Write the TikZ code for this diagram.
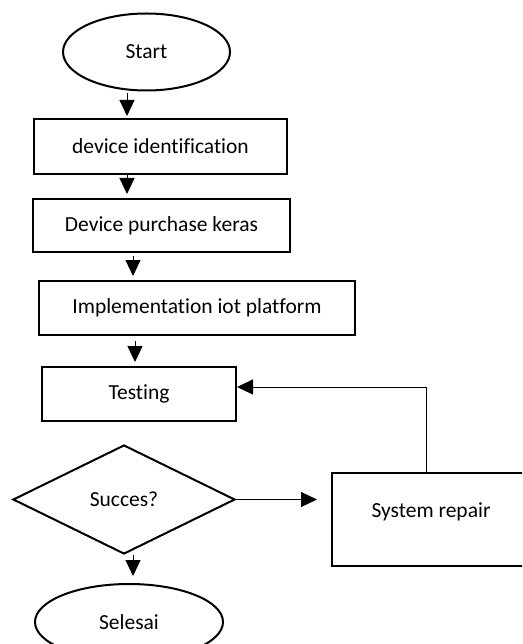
\documentclass[tikz,border=0pt]{standalone}
\usepackage{fontspec}
\setmainfont{Carlito}[Ligatures=NoCommon]
\usetikzlibrary{arrows.meta}
\usetikzlibrary{shapes.geometric}

\begin{document}
\begin{tikzpicture}[x=1pt, y=-1pt,
    every node/.style={font=\fontsize{21.5}{25}\selectfont, inner sep=0pt},
    terminal/.style={draw, ellipse, line width=2pt},
    proc/.style={draw, rectangle, line width=2pt},
    decision/.style={draw, diamond, line width=2pt},
    arr/.style={line width=1pt, -{Triangle[length=16pt, width=15pt]}}]

        \clip (0,0) rectangle (522,644);

        % shapes
        \node [terminal, minimum width=167, minimum height=77] (start) at (146.5,52) {Start};
        \node [proc, minimum width=253, minimum height=55] (ident) at (160.5,146.5) {device identification};
        \node [proc, minimum width=257, minimum height=53] (buy) at (161.5,225.5) {Device purchase keras};
        \node [proc, minimum width=316, minimum height=54] (impl) at (197,308) {Implementation iot platform};
        \node [proc, minimum width=194, minimum height=54] (test) at (139,394) {Testing};
        \node [decision, minimum width=222, minimum height=109] (cek) at (124,499.5) {Succes?};
        \node [proc, minimum width=198, minimum height=93, text depth=18pt] (repair) at (431,519.5) {System repair};
        \node [terminal, minimum width=188, minimum height=76] (finish) at (129,622) {Selesai};

        % arrows
        \draw[arr, shorten <=2pt, shorten >=2pt] (start.south -| 127,0) -- (ident.north -| 127,0);
        \draw[arr, shorten >=4pt] (ident.south -| 127,0) -- (buy.north -| 127,0);
        \draw[arr, shorten <=3pt, shorten >=4pt] (buy.south -| 133,0) -- (impl.north -| 133,0);
        \draw[arr, shorten <=5pt, shorten >=4pt] (impl.south -| 135,0) -- (test.north -| 135,0);
        \draw[arr, shorten >=14pt] (cek.east) -- (repair.west |- cek.east);
        \draw[arr, shorten >=7pt] (cek.south -| 133,0) -- (finish.north -| 133,0);
        \draw[arr] (repair.north -| 426,0) |- ([yshift=7pt]test.east);

      \end{tikzpicture}
\end{document}
